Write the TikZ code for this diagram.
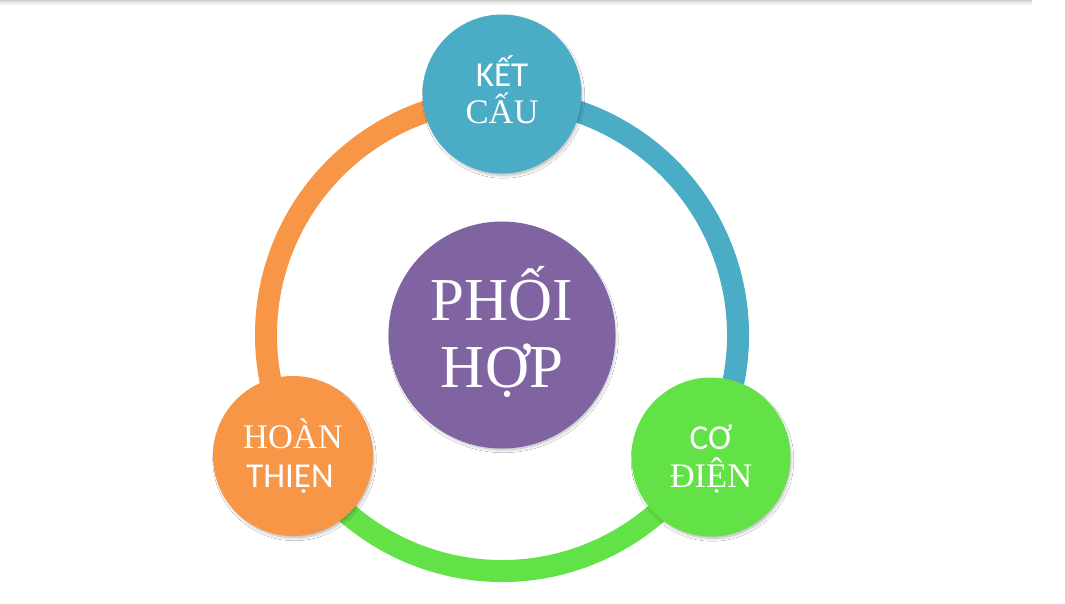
\documentclass[tikz,border=0pt]{standalone}
\usepackage{fontspec}
\newfontfamily\sansf{Carlito}
\newfontfamily\seriff{Liberation Serif}
\usetikzlibrary{shadows.blur}
\definecolor{tealC}{HTML}{4BACC6}
\definecolor{orangeC}{HTML}{F79646}
\definecolor{greenC}{HTML}{62E246}
\definecolor{purpleC}{HTML}{8064A2}
\tikzset{
  bub/.style={circle, inner sep=0pt, draw=none,
    blur shadow={shadow scale=0.985, shadow xshift=1.5pt, shadow yshift=-3pt, shadow blur radius=3pt, shadow opacity=30, shadow blur steps=8}},
  txt/.style={text=white, inner sep=0pt, anchor=base},
  ringarc/.style={line width=22pt, line cap=butt}
}
\begin{document}
\begin{tikzpicture}[x=1pt,y=1pt]
\useasboundingbox (0,0) rectangle (1065,603);
\fill[white] (0,0) rectangle (1065,603);
% top rule with soft shadow
\fill[black!5] (0,598) rectangle (1032,600);
\fill[black!12] (0,600) rectangle (1032,601.5);
\fill[black!20] (0,601.5) rectangle (1032,603);
% ring
\coordinate (rc) at (502,268);
\draw[ringarc, orangeC] (rc) ++(90:236pt) arc[start angle=90, end angle=210, radius=236pt];
\draw[ringarc, tealC] (rc) ++(-30:236pt) arc[start angle=-30, end angle=90, radius=236pt];
\draw[ringarc, greenC] (rc) ++(210:236pt) arc[start angle=210, end angle=330, radius=236pt];
% circles
\node[bub, fill=purpleC, minimum size=227pt] (ph) at (502,268) {};
\node[bub, fill=tealC, minimum size=159pt] (kc) at (502,509) {};
\node[bub, fill=orangeC, minimum size=160pt] (ht) at (293,147) {};
\node[bub, fill=greenC, minimum size=159pt] (cd) at (711,146) {};
% texts
\node[txt] (ph1) at (502,282) {\seriff\fontsize{61}{61}\selectfont PHỐI};
\node[txt] (ph2) at (502,215) {\seriff\fontsize{61}{61}\selectfont HỢP};
\node[txt] (kc1) at (502,516) {\sansf\fontsize{35}{35}\selectfont KẾT};
\node[txt] (kc2) at (502,479) {\seriff\fontsize{34.5}{34.5}\selectfont CẤU};
\node[txt] (ht1) at (293,155) {\seriff\fontsize{34.5}{34.5}\selectfont HOÀN};
\node[txt] (ht2) at (290,116) {\sansf\fontsize{35}{35}\selectfont THIỆN};
\node[txt] (cd1) at (711,154) {\sansf\fontsize{35}{35}\selectfont CƠ};
\node[txt] (cd2) at (711,116) {\seriff\fontsize{34.5}{34.5}\selectfont ĐIỆN};
\end{tikzpicture}
\end{document}
